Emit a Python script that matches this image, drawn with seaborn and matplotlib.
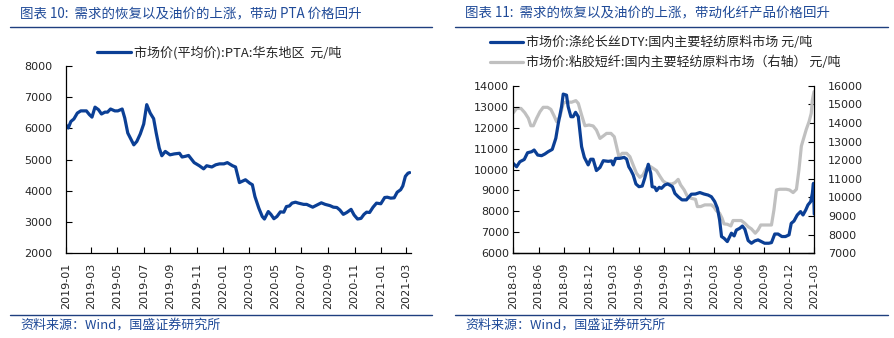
import matplotlib
matplotlib.use("Agg")
import matplotlib.pyplot as plt
import matplotlib.dates as mdates
from matplotlib.lines import Line2D
import numpy as np
import pandas as pd
import seaborn as sns

# ---------------- data ----------------
pta_dates = [
    "2019-01-01", "2019-01-07", "2019-01-13", "2019-01-20", "2019-01-28", "2019-02-05", "2019-02-18", "2019-02-25", "2019-03-03", "2019-03-10",
    "2019-03-18", "2019-03-25", "2019-04-02", "2019-04-08", "2019-04-15", "2019-04-25", "2019-05-02", "2019-05-12", "2019-05-18", "2019-05-25",
    "2019-06-08", "2019-06-15", "2019-06-23", "2019-07-01", "2019-07-08", "2019-07-16", "2019-07-24", "2019-07-30", "2019-08-06", "2019-08-12",
    "2019-08-20", "2019-08-31", "2019-09-10", "2019-09-22", "2019-09-28", "2019-10-05", "2019-10-13", "2019-10-26", "2019-11-07", "2019-11-17",
    "2019-11-24", "2019-12-06", "2019-12-15", "2019-12-24", "2020-01-03", "2020-01-11", "2020-01-23", "2020-01-30", "2020-02-08", "2020-02-22",
    "2020-03-03", "2020-03-09", "2020-03-15", "2020-03-24", "2020-04-01", "2020-04-06", "2020-04-15", "2020-04-21", "2020-04-28", "2020-05-05",
    "2020-05-13", "2020-05-21", "2020-05-27", "2020-06-03", "2020-06-09", "2020-06-17", "2020-06-24", "2020-07-06", "2020-07-13", "2020-07-27",
    "2020-08-06", "2020-08-16", "2020-08-25", "2020-09-05", "2020-09-13", "2020-09-21", "2020-09-28", "2020-10-06", "2020-10-14", "2020-10-24",
    "2020-10-31", "2020-11-08", "2020-11-16", "2020-11-23", "2020-11-29", "2020-12-06", "2020-12-14", "2020-12-22", "2021-01-01", "2021-01-10",
    "2021-01-16", "2021-01-24", "2021-02-01", "2021-02-08", "2021-02-16", "2021-02-21", "2021-02-27", "2021-03-05", "2021-03-09",
]
pta_values = [
    6120, 6010, 6220, 6300, 6490, 6560, 6560, 6440, 6360, 6680,
    6600, 6460, 6520, 6520, 6620, 6560, 6560, 6620, 6330, 5850,
    5470, 5580, 5820, 6140, 6760, 6490, 6310, 5850, 5370, 5120,
    5260, 5150, 5180, 5200, 5080, 5100, 5130, 4900, 4800, 4700,
    4800, 4760, 4830, 4860, 4860, 4900, 4800, 4760, 4260, 4350,
    4240, 4190, 3810, 3440, 3170, 3090, 3330, 3240, 3100, 3170,
    3320, 3310, 3490, 3510, 3600, 3630, 3600, 3560, 3560, 3470,
    3540, 3610, 3560, 3520, 3470, 3460, 3380, 3240, 3300, 3400,
    3220, 3090, 3110, 3240, 3310, 3300, 3470, 3600, 3580, 3780,
    3790, 3760, 3770, 3950, 4030, 4150, 4460, 4560, 4580,
]

dty_dates = [
    "2018-03-01", "2018-03-13", "2018-03-25", "2018-04-10", "2018-04-22", "2018-05-07", "2018-05-16", "2018-05-29", "2018-06-12", "2018-06-24",
    "2018-07-06", "2018-07-21", "2018-08-03", "2018-08-12", "2018-08-24", "2018-08-30", "2018-09-11", "2018-09-17", "2018-09-27", "2018-10-05",
    "2018-10-14", "2018-10-24", "2018-11-05", "2018-11-15", "2018-11-29", "2018-12-08", "2018-12-17", "2018-12-29", "2019-01-11", "2019-01-23",
    "2019-02-10", "2019-02-22", "2019-02-28", "2019-03-09", "2019-03-24", "2019-04-09", "2019-04-18", "2019-04-26", "2019-05-03", "2019-05-12",
    "2019-05-22", "2019-06-02", "2019-06-14", "2019-06-23", "2019-07-06", "2019-07-15", "2019-07-20", "2019-07-30", "2019-08-05", "2019-08-15",
    "2019-08-23", "2019-09-04", "2019-09-14", "2019-09-22", "2019-10-02", "2019-10-11", "2019-10-23", "2019-11-06", "2019-11-22", "2019-12-10",
    "2019-12-25", "2020-01-10", "2020-01-25", "2020-02-09", "2020-02-21", "2020-03-04", "2020-03-14", "2020-03-22", "2020-03-29", "2020-04-07",
    "2020-04-19", "2020-05-04", "2020-05-14", "2020-05-22", "2020-06-03", "2020-06-13", "2020-06-22", "2020-07-04", "2020-07-16", "2020-07-28",
    "2020-08-09", "2020-08-21", "2020-09-02", "2020-09-17", "2020-09-27", "2020-10-09", "2020-10-21", "2020-11-04", "2020-11-17", "2020-11-30",
    "2020-12-08", "2020-12-18", "2020-12-30", "2021-01-11", "2021-01-20", "2021-01-30", "2021-02-07", "2021-02-17", "2021-02-23", "2021-02-27",
    "2021-03-02",
]
dty_values = [
    10290, 10130, 10370, 10480, 10800, 10850, 10930, 10690, 10660, 10740,
    10850, 10960, 11490, 12200, 13000, 13600, 13550, 13000, 12520, 12520,
    12730, 12520, 11090, 10580, 10220, 10490, 10490, 9950, 10100, 10420,
    10390, 10410, 10220, 10530, 10530, 10580, 10500, 10130, 9980, 9740,
    9310, 9180, 9210, 9580, 10250, 9820, 9180, 9150, 8990, 9150,
    9100, 9260, 9310, 9260, 9180, 8860, 8700, 8550, 8550, 8820,
    8830, 8900, 8830, 8780, 8700, 8470, 8150, 7590, 6800, 6720,
    6560, 6960, 6830, 7110, 7190, 7300, 7150, 6610, 6480, 6590,
    6640, 6560, 6480, 6480, 6510, 6920, 6920, 6800, 6800, 6880,
    7430, 7540, 7830, 7990, 7830, 8070, 8310, 8470, 8860, 9340,
    7870,
]

viscose_dates = [
    "2018-03-01", "2018-03-13", "2018-03-29", "2018-04-12", "2018-04-25", "2018-05-04", "2018-05-13", "2018-05-25", "2018-06-06", "2018-06-18",
    "2018-07-04", "2018-07-16", "2018-07-28", "2018-08-06", "2018-08-18", "2018-08-30", "2018-09-11", "2018-09-29", "2018-10-15", "2018-10-24",
    "2018-11-05", "2018-11-17", "2018-12-02", "2018-12-17", "2018-12-29", "2019-01-11", "2019-01-23", "2019-02-04", "2019-02-20", "2019-03-04",
    "2019-03-12", "2019-03-21", "2019-04-02", "2019-04-18", "2019-04-30", "2019-05-12", "2019-05-24", "2019-06-05", "2019-06-17", "2019-06-27",
    "2019-07-08", "2019-07-18", "2019-08-05", "2019-08-17", "2019-08-29", "2019-09-10", "2019-09-29", "2019-10-11", "2019-10-23", "2019-11-01",
    "2019-11-14", "2019-11-26", "2019-12-10", "2019-12-25", "2020-01-01", "2020-01-13", "2020-01-28", "2020-02-09", "2020-02-21", "2020-03-02",
    "2020-03-10", "2020-03-22", "2020-03-31", "2020-04-07", "2020-04-19", "2020-05-02", "2020-05-10", "2020-05-26", "2020-06-09", "2020-06-22",
    "2020-07-04", "2020-07-16", "2020-07-30", "2020-08-09", "2020-08-19", "2020-08-31", "2020-09-14", "2020-09-27", "2020-10-06", "2020-10-15",
    "2020-10-27", "2020-11-08", "2020-11-20", "2020-12-02", "2020-12-15", "2020-12-27", "2021-01-05", "2021-01-14", "2021-01-24", "2021-02-01",
    "2021-02-11", "2021-02-19", "2021-02-23", "2021-03-01",
]
viscose_values = [
    14550, 14780, 14780, 14550, 14250, 13850, 13850, 14250, 14600, 14840,
    14840, 14730, 14370, 14070, 14340, 15050, 15140, 15110, 15200, 15050,
    14430, 13850, 13890, 13840, 13620, 13170, 13300, 13440, 13440, 13260,
    12760, 12190, 12370, 12370, 12190, 11740, 11300, 11080, 11210, 11510,
    11710, 11620, 11440, 11150, 10880, 10760, 10720, 10790, 10970, 10670,
    10400, 10040, 9950, 9900, 9510, 9510, 9600, 9600, 9600, 9470,
    9290, 9150, 8880, 8580, 8560, 8470, 8760, 8760, 8760, 8610,
    8430, 8310, 8080, 8250, 8520, 8520, 8520, 8520, 9330, 10400,
    10440, 10440, 10440, 10400, 10260, 10440, 11470, 12760, 13260, 13660,
    14070, 14520, 15230, 15680,
]

title_left = "图表 10:  需求的恢复以及油价的上涨，带动 PTA 价格回升"
title_right = "图表 11:  需求的恢复以及油价的上涨，带动化纤产品价格回升"
legend_left = "市场价(平均价):PTA:华东地区  元/吨"
legend_dty = "市场价:涤纶长丝DTY:国内主要轻纺原料市场 元/吨"
legend_viscose = "市场价:粘胶短纤:国内主要轻纺原料市场（右轴） 元/吨"
source_text = "资料来源：Wind，国盛证券研究所"

# ---------------- style ----------------
sns.set_theme(style="white")
plt.rcParams['font.family'] = ['DejaVu Sans', 'Noto Sans CJK SC']
plt.rcParams['axes.unicode_minus'] = False

BLUE = "#0B3F95"
GREY = "#C0C0C0"
TITLE_BLUE = "#1F4A98"
RULE_BLUE = "#1F3F7F"
CJK = ['Noto Sans CJK SC', 'DejaVu Sans']

df_pta = pd.DataFrame({"date": pd.to_datetime(pta_dates), "value": pta_values})
df_dty = pd.DataFrame({"date": pd.to_datetime(dty_dates), "value": dty_values})
df_vis = pd.DataFrame({"date": pd.to_datetime(viscose_dates), "value": viscose_values})

fig = plt.figure(figsize=(8.95, 3.38), dpi=100)
fig.patch.set_facecolor("white")

ax1 = fig.add_axes([0.0734, 0.2515, 0.3858, 0.5532])
ax2 = fig.add_axes([0.5735, 0.2506, 0.3363, 0.4958])
ax3 = ax2.twinx()

# ---- left chart ----
sns.lineplot(data=df_pta, x="date", y="value", ax=ax1, color=BLUE, linewidth=2.3, legend=False)
ax1.set_xlim(pd.Timestamp("2019-01-01"), pd.Timestamp("2021-03-12"))
ax1.set_ylim(2000, 8000)
ax1.set_yticks(np.arange(2000, 8001, 1000))
ax1.xaxis.set_major_locator(mdates.MonthLocator(bymonth=[1, 3, 5, 7, 9, 11]))
ax1.xaxis.set_major_formatter(mdates.DateFormatter("%Y-%m"))
ax1.set_xlabel("")
ax1.set_ylabel("")
for s in ["top", "right"]:
    ax1.spines[s].set_visible(False)
for s in ["left", "bottom"]:
    ax1.spines[s].set_color("black")
    ax1.spines[s].set_linewidth(0.9)
ax1.tick_params(axis="x", direction="in", length=4, width=0.8, color="black", labelsize=8, pad=7, rotation=90, bottom=True)
ax1.tick_params(axis="y", direction="in", length=4, width=0.8, color="black", labelsize=8, pad=9.5, left=True)

# ---- right chart ----
sns.lineplot(data=df_vis, x="date", y="value", ax=ax3, color=GREY, linewidth=2.3, legend=False)
sns.lineplot(data=df_dty, x="date", y="value", ax=ax2, color=BLUE, linewidth=2.3, legend=False)
ax2.set_zorder(ax3.get_zorder() + 1)
ax2.patch.set_visible(False)
ax2.set_xlim(pd.Timestamp("2018-03-01"), pd.Timestamp("2021-03-02"))
ax2.set_ylim(6000, 14000)
ax2.set_yticks(np.arange(6000, 14001, 1000))
ax3.set_ylim(7000, 16000)
ax3.set_yticks(np.arange(7000, 16001, 1000))
ax2.xaxis.set_major_locator(mdates.MonthLocator(bymonth=[3, 6, 9, 12]))
ax2.xaxis.set_major_formatter(mdates.DateFormatter("%Y-%m"))
for a in (ax2, ax3):
    a.set_xlabel("")
    a.set_ylabel("")
    a.spines["top"].set_visible(False)
    for s in ["left", "right", "bottom"]:
        a.spines[s].set_color("black")
        a.spines[s].set_linewidth(0.9)
ax2.spines["right"].set_visible(False)
ax3.spines["left"].set_visible(False)
ax2.tick_params(axis="x", direction="in", length=4, width=0.8, color="black", labelsize=8, pad=7, rotation=90, bottom=True)
ax2.tick_params(axis="y", direction="in", length=4, width=0.8, color="black", labelsize=8, pad=3, left=True)
ax3.tick_params(axis="y", direction="in", length=4, width=0.8, color="black", labelsize=8, pad=10, right=True)

# ---- legends ----
h_left = Line2D([], [], color=BLUE, linewidth=2.3)
fig.legend([h_left], [legend_left], loc="center left", bbox_to_anchor=(97 / 895, 1 - 53 / 338),
           frameon=False, handlelength=2.6, handletextpad=0.25, borderpad=0, borderaxespad=0,
           prop={'family': CJK, 'size': 9.4})
h_dty = Line2D([], [], color=BLUE, linewidth=2.3)
h_vis = Line2D([], [], color=GREY, linewidth=2.3)
fig.legend([h_dty, h_vis], [legend_dty, legend_viscose], loc="center left",
           bbox_to_anchor=(490 / 895, 1 - 52.7 / 338), frameon=False,
           handlelength=2.5, handletextpad=0.25, borderpad=0, borderaxespad=0, labelspacing=0.5,
           prop={'family': CJK, 'size': 9.4})

# ---- titles, rules, sources ----
fig.text(20 / 895, 1 - 13 / 338, title_left, color=TITLE_BLUE, fontsize=9.7, style="italic",
         ha="left", va="center", family=CJK)
fig.text(465 / 895, 1 - 13 / 338, title_right, color=TITLE_BLUE, fontsize=9.7, style="italic",
         ha="left", va="center", family=CJK)
fig.add_artist(Line2D([10 / 895, 432 / 895], [1 - 27 / 338] * 2, color=RULE_BLUE, linewidth=1.0))
fig.add_artist(Line2D([455 / 895, 888 / 895], [1 - 27 / 338] * 2, color=RULE_BLUE, linewidth=1.0))
fig.add_artist(Line2D([10 / 895, 432 / 895], [1 - 315 / 338] * 2, color=RULE_BLUE, linewidth=1.0))
fig.add_artist(Line2D([455 / 895, 888 / 895], [1 - 315 / 338] * 2, color=RULE_BLUE, linewidth=1.0))
fig.text(20 / 895, 1 - 325 / 338, source_text, color=TITLE_BLUE, fontsize=9.4, style="italic",
         ha="left", va="center", family=CJK)
fig.text(465 / 895, 1 - 325 / 338, source_text, color=TITLE_BLUE, fontsize=9.4, style="italic",
         ha="left", va="center", family=CJK)

fig.savefig("out.png", dpi=100, facecolor="white")
